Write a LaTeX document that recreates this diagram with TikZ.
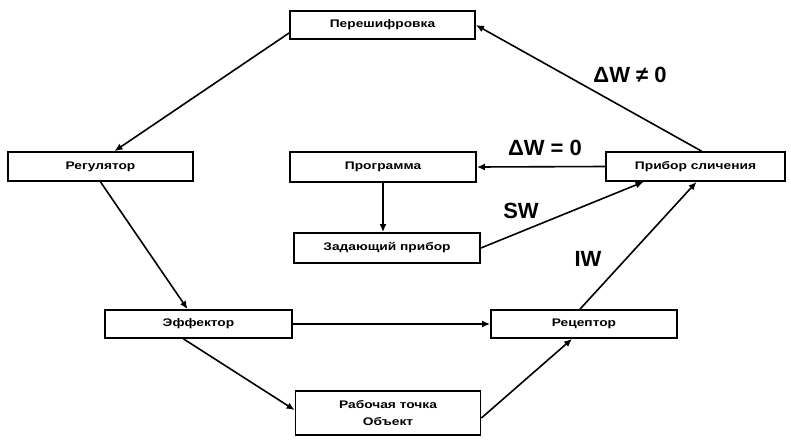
\documentclass[tikz,border=0pt]{standalone}
\usepackage{fontspec}
\setmainfont{Liberation Sans}
\newfontfamily\boxfont[FakeStretch=1.25]{Liberation Sans}
\usetikzlibrary{arrows.meta}
\begin{document}
\begin{tikzpicture}[x=1pt,y=-1pt,
  box/.style={draw,line width=1.8pt,minimum height=29pt,inner sep=0pt,
    font=\boxfont\bfseries\fontsize{11}{12}\selectfont,align=center},
  conn/.style={line width=1.6pt,-{Latex[length=8pt,width=7pt]}},
  lbl/.style={font=\bfseries\fontsize{22}{24}\selectfont}]
\useasboundingbox (0,0) rectangle (791,439);
\node[box,minimum width=185pt,minimum height=28pt] (per) at (382.5,25) {Перешифровка};
\node[box,minimum width=185pt] (reg) at (100.5,166.5) {Регулятор};
\node[box,minimum width=186pt,minimum height=30pt] (prog) at (383,167) {Программа};
\node[box,minimum width=179pt] (prib) at (695.5,166.5) {Прибор сличения};
\node[box,minimum width=186pt,minimum height=30pt] (zad) at (387,248) {Задающий прибор};
\node[box,minimum width=187pt,minimum height=28pt] (eff) at (198.5,324) {Эффектор};
\node[box,minimum width=186pt,minimum height=28pt] (rec) at (584,324) {Рецептор};
\node[box,minimum width=185pt,minimum height=44pt] (rab) at (388,413) {Рабочая точка\\[5pt]Объект};

\draw[conn] ([xshift=6pt]prib.north) -- (per.east);
\draw[conn] ([yshift=-8pt]per.west) -- ([xshift=14pt]reg.north);
\draw[conn] (reg.south) -- ([xshift=-11pt]eff.north);
\draw[conn] ([xshift=-15pt]eff.south) -- ([yshift=3pt]rab.west);
\draw[conn] ([yshift=-5pt]rab.east) -- ([xshift=-12pt]rec.south);
\draw[conn] (eff.east) -- (rec.west);
\draw[conn] ([xshift=-4pt]rec.north) -- ([xshift=1pt]prib.south);
\draw[conn] (prib.west) -- (prog.east);
\draw[conn] (prog.south) -- (prog.south |- zad.north);
\draw[conn] (zad.east) -- ([xshift=-52pt]prib.south);

\node[lbl] (l1) at (630,75) {ΔW ≠ 0};
\node[lbl] (l2) at (545,148) {ΔW = 0};
\node[lbl] (l3) at (521,211) {SW};
\node[lbl] (l4) at (588,259) {IW};
\end{tikzpicture}
\end{document}
